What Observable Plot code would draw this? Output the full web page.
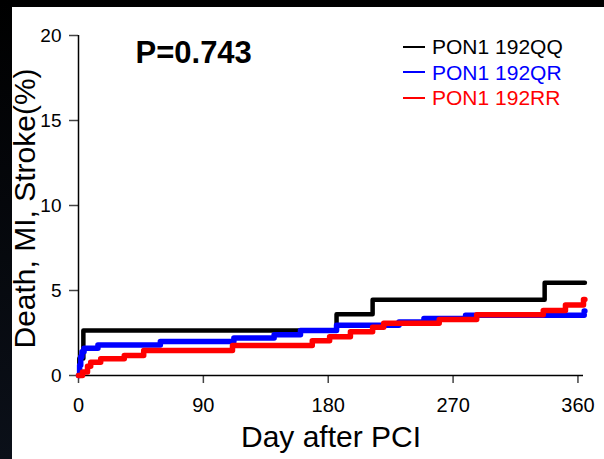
<!DOCTYPE html>
<html>
<head>
<meta charset="utf-8">
<script src="https://cdn.jsdelivr.net/npm/d3@7"></script>
<script src="https://cdn.jsdelivr.net/npm/@observablehq/plot@0.6"></script>
<style>
  html, body { margin: 0; padding: 0; background: #000; }
  #wrap { position: relative; width: 604px; height: 459px; background: linear-gradient(#000, #0b1019); overflow: hidden; font-family: "Liberation Sans", Arial, sans-serif; }
  #panel { position: absolute; left: 12px; top: 7px; right: 0; bottom: 0; background: #fff; }
  #chart { position: absolute; left: 0; top: 0; }
  #chart svg { background: transparent !important; }
  #legend { position: absolute; left: 403px; top: 34px; font-size: 21px; line-height: 25.5px; }
  .row { display: flex; align-items: center; white-space: nowrap; }
  .sw { display: inline-block; width: 22px; height: 2px; margin-right: 7px; }
</style>
</head>
<body>
<div id="wrap">
  <div id="panel"></div>
  <div id="chart"></div>
  <div id="legend"></div>
</div>
<script>
// Series names and colours
const seriesNames = ["PON1 192QQ", "PON1 192QR", "PON1 192RR"];
const seriesColors = ["#000000", "#0000ff", "#ff0000"];
const seriesWidths = [4.5, 5.5, 5.5];

// Kaplan-Meier style step data: day after PCI and cumulative event rate (%)
const qqDays = [0, 0.6, 3.5, 186, 212, 336, 365];
const qqVals = [0, 1.0, 2.65, 3.6, 4.45, 5.45, 5.45];

const qrDays = [0, 0.8, 1.6, 2.5, 4, 14, 59, 112, 141, 160, 186, 231, 249, 279, 364.5, 365];
const qrVals = [0, 0.6, 1.1, 1.4, 1.6, 1.8, 2.0, 2.2, 2.4, 2.65, 2.95, 3.15, 3.35, 3.55, 3.8, 3.8];

const rrDays = [0, 2.9, 6.5, 8.8, 16, 33, 47, 111, 168.5, 181, 196, 212, 220, 260, 287, 335, 351, 364, 365];
const rrVals = [0, 0.2, 0.55, 0.78, 0.98, 1.18, 1.47, 1.76, 2.04, 2.28, 2.57, 2.84, 3.08, 3.3, 3.57, 3.82, 4.15, 4.47, 4.47];

// Axis ticks and labels
const xTicks = [0, 90, 180, 270, 360];
const yTicks = [0, 5, 10, 15, 20];
const xTitle = "Day after PCI";
const yTitle = "Death, MI, Stroke(%)";
const pLabel = "P=0.743";

const allDays = [qqDays, qrDays, rrDays];
const allVals = [qqVals, qrVals, rrVals];
const rows = allDays.flatMap((ds, i) => ds.map((d, j) => ({day: d, val: allVals[i][j], series: seriesNames[i]})));

const font = "'Liberation Sans', Arial, sans-serif";

const plot = Plot.plot({
  width: 604,
  height: 459,
  marginLeft: 78,
  marginRight: 21,
  marginTop: 35,
  marginBottom: 84,
  style: {fontFamily: font, background: "transparent", color: "#000"},
  x: {domain: [0, 364]},
  y: {domain: [0, 20]},
  marks: [
    Plot.axisX({ticks: xTicks, tickSize: 8, tickPadding: 14, fontSize: 20, label: null, stroke: "#444", strokeWidth: 1.5, fill: "#000"}),
    Plot.axisY({ticks: yTicks, tickSize: 9, tickPadding: 8, fontSize: 19, label: null, stroke: "#444", strokeWidth: 1.5, fill: "#000"}),
    Plot.ruleY([0], {stroke: "#000", strokeWidth: 1.5}),
    Plot.ruleX([0], {stroke: "#000", strokeWidth: 1.5}),
    ...seriesNames.map((name, i) =>
      Plot.line(rows.filter(r => r.series === name), {
        x: "day", y: "val", curve: "step-after",
        stroke: seriesColors[i], strokeWidth: seriesWidths[i],
        strokeLinecap: "round", strokeLinejoin: "round"
      })
    ),
    Plot.text([xTitle], {frameAnchor: "bottom", dy: 62, fontSize: 30, textAnchor: "middle", lineAnchor: "middle", fill: "#000"}),
    Plot.text([yTitle], {frameAnchor: "left", dx: -53, dy: 3, rotate: -90, fontSize: 30, textAnchor: "middle", lineAnchor: "middle", fill: "#000"}),
    Plot.text([pLabel], {frameAnchor: "top-left", dx: 57, dy: 5, fontSize: 31, fontWeight: "bold", textAnchor: "start", lineAnchor: "top", fill: "#000"})
  ]
});
document.getElementById("chart").appendChild(plot);

const legend = document.getElementById("legend");
seriesNames.forEach((name, i) => {
  const row = document.createElement("div");
  row.className = "row";
  row.style.color = seriesColors[i];
  const sw = document.createElement("span");
  sw.className = "sw";
  sw.style.background = seriesColors[i];
  row.appendChild(sw);
  row.appendChild(document.createTextNode(name));
  legend.appendChild(row);
});
</script>
</body>
</html>
